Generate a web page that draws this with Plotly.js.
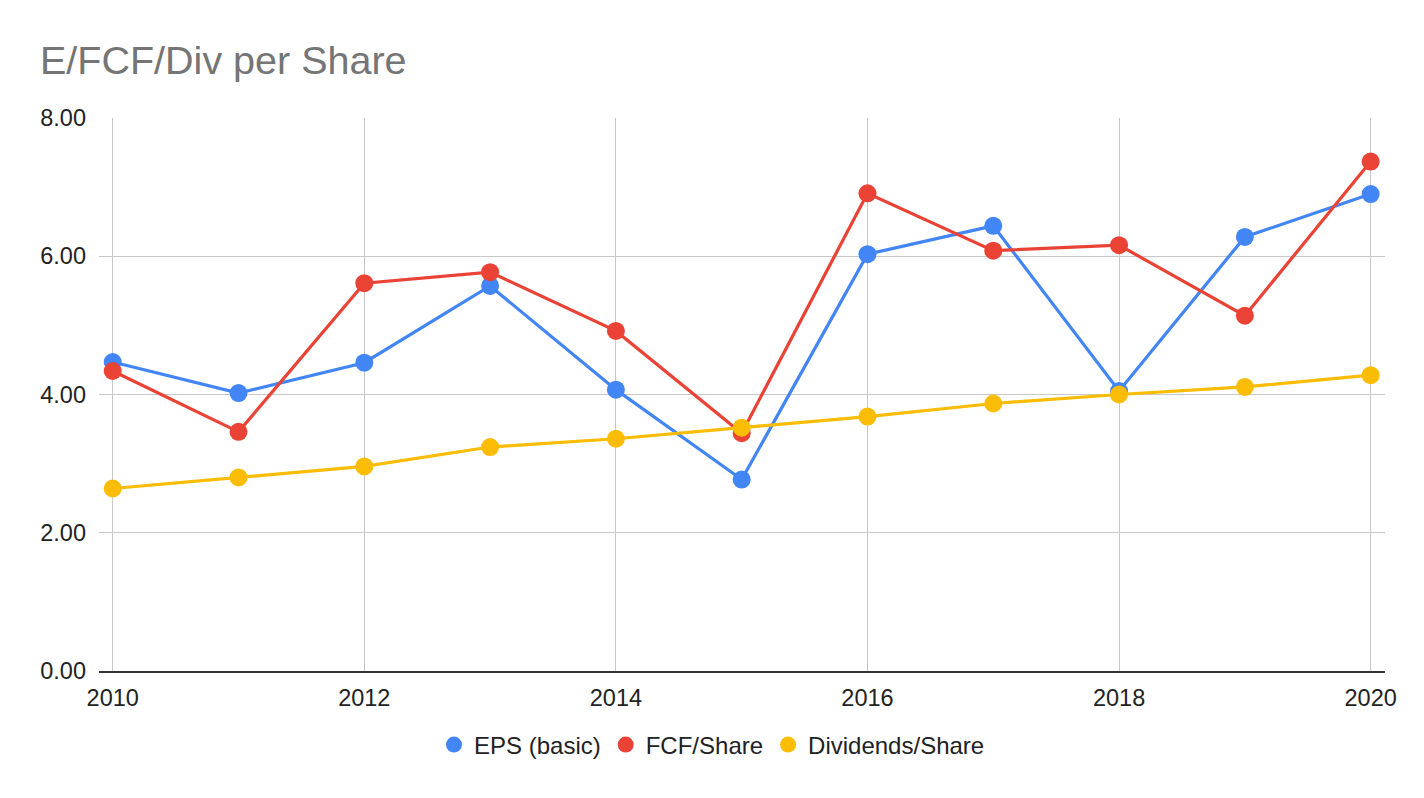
<!DOCTYPE html>
<html>
<head>
<meta charset="utf-8">
<script src="https://cdn.plot.ly/plotly-3.0.1.min.js"></script>
<style>
  html, body { margin: 0; padding: 0; background: #fff; }
  #chart { width: 1424px; height: 798px; }
</style>
</head>
<body>
<div id="chart"></div>
<script>
// values
const years = [2010, 2011, 2012, 2013, 2014, 2015, 2016, 2017, 2018, 2019, 2020];
const eps = [4.47, 4.02, 4.46, 5.57, 4.07, 2.77, 6.03, 6.44, 4.05, 6.28, 6.90];
const fcfShare = [4.34, 3.46, 5.61, 5.77, 4.92, 3.44, 6.91, 6.08, 6.16, 5.14, 7.37];
const divShare = [2.64, 2.80, 2.96, 3.24, 3.36, 3.52, 3.68, 3.87, 4.00, 4.11, 4.28];

const seriesNames = ['EPS (basic)', 'FCF/Share', 'Dividends/Share'];
const seriesColors = ['#4285f4', '#ea4335', '#fbbc04'];
const seriesValues = [eps, fcfShare, divShare];

const font = 'Liberation Sans, Arial, sans-serif';

let traces = [];
// the plotted lines, legend hidden
seriesValues.forEach((vals, i) => {
  traces.push({
    x: years,
    y: vals,
    name: seriesNames[i],
    mode: 'lines+markers',
    line: {color: seriesColors[i], width: 3.2},
    marker: {color: seriesColors[i], size: 18},
    showlegend: false,
    hoverinfo: 'x+y+name',
  });
});
// legend entries shown as plain dots
seriesValues.forEach((vals, i) => {
  traces.push({
    x: [null],
    y: [null],
    name: seriesNames[i],
    mode: 'markers',
    marker: {color: seriesColors[i], size: 22},
    showlegend: true,
  });
});

const layout = {
  width: 1424,
  height: 798,
  margin: {l: 99, r: 39, t: 118, b: 127},
  paper_bgcolor: '#ffffff',
  plot_bgcolor: '#ffffff',
  font: {family: font, size: 24, color: '#222222'},
  title: {
    text: 'E/FCF/Div per Share',
    font: {family: font, size: 39.5, color: '#757575'},
    xref: 'container',
    yref: 'container',
    x: 40 / 1424,
    xanchor: 'left',
    y: 1 - 60 / 798,
    yanchor: 'middle',
  },
  xaxis: {
    range: [2009.891, 2020.114],
    tickvals: [2010, 2012, 2014, 2016, 2018, 2020],
    ticktext: ['2010', '2012', '2014', '2016', '2018', '2020'],
    showgrid: true,
    gridcolor: '#c8c8c8',
    gridwidth: 1,
    zeroline: false,
    showline: true,
    linecolor: '#333333',
    linewidth: 2,
    ticks: '',
    ticklabelstandoff: 5,
    tickfont: {family: font, size: 23.5, color: '#222222'},
  },
  yaxis: {
    range: [0, 8],
    tickvals: [0, 2, 4, 6, 8],
    ticktext: ['0.00', '2.00', '4.00', '6.00', '8.00'],
    showgrid: true,
    gridcolor: '#c8c8c8',
    gridwidth: 1,
    zeroline: false,
    showline: false,
    ticks: '',
    ticklabelstandoff: 12,
    tickfont: {family: font, size: 23.5, color: '#222222'},
  },
  legend: {
    orientation: 'h',
    xref: 'container',
    yref: 'container',
    x: 0.5,
    xanchor: 'center',
    y: 1 - 745 / 798,
    yanchor: 'middle',
    font: {family: font, size: 24, color: '#222222'},
    itemsizing: 'trace',
    itemwidth: 30,
    bgcolor: 'rgba(0,0,0,0)',
  },
  showlegend: true,
};

Plotly.newPlot('chart', traces, layout, {displayModeBar: false, staticPlot: true});
</script>
</body>
</html>
